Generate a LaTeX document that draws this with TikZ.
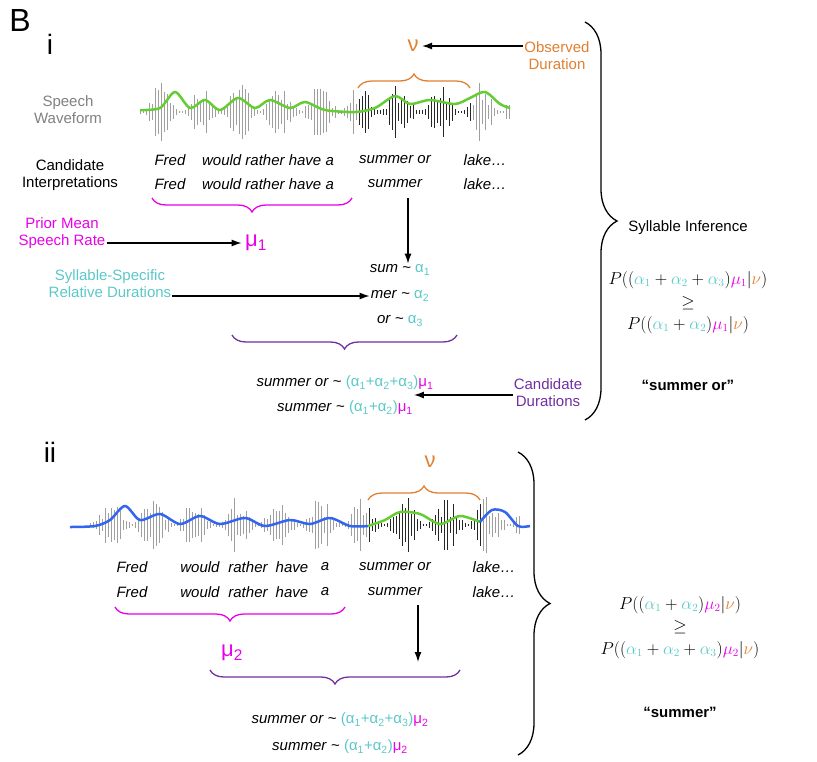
\documentclass[tikz,border=0pt]{standalone}
\usepackage{fontspec}
\setsansfont{Liberation Sans}
\usetikzlibrary{decorations.pathreplacing,arrows.meta}
\definecolor{mag}{HTML}{E800E8}
\definecolor{cya}{HTML}{5BC8C8}
\definecolor{ora}{HTML}{E08030}
\definecolor{pur}{HTML}{7030A0}
\definecolor{grn}{HTML}{66CC33}
\definecolor{blu}{HTML}{3366EE}
\begin{document}
\begin{tikzpicture}[x=1pt,y=-1pt,font=\sffamily\fontsize{15}{17}\selectfont,
  lbl/.style={align=center,inner sep=1pt},
  it/.style={font=\sffamily\itshape\fontsize{15}{17}\selectfont,inner sep=1pt},
  arr/.style={-{Latex[length=10pt,width=7pt]},line width=1.3pt},
  br/.style={decorate,decoration={brace,amplitude=14pt},line width=1.3pt},
  bigbr/.style={decorate,decoration={brace,amplitude=32pt},line width=1.3pt},
  fm/.style={font=\fontsize{16}{18}\selectfont,inner sep=1pt}]
\useasboundingbox (0,0) rectangle (817,761);
\node[font=\sffamily\fontsize{32}{34}\selectfont] (B) at (20,20) {B};
\node[font=\sffamily\fontsize{28}{30}\selectfont] (i) at (50,44) {i};
% waveform 1
\pgfmathsetseed{7}
\foreach \x in {140,143,...,510}{
  \pgfmathsetmacro\h{(2+28*abs(sin((\x-140)*4.5))^2)*(0.3+0.7*rnd)}
  \ifnum\x>357 \ifnum\x<471 \def\c{black!85}\else\def\c{gray!75}\fi\else\def\c{gray!75}\fi
  \draw[\c,line width=0.9pt] (\x,112-\h) -- (\x,112+\h);
}
\draw[grn,line width=2.5pt] plot[smooth] coordinates {(140,110)(160,108)(175,92)(190,108)(205,100)(220,110)(238,98)(255,108)(270,100)(290,108)(305,102)(325,110)(355,112)(375,108)(395,96)(410,104)(430,100)(455,104)(470,98)(485,92)(500,104)(510,108)};
\node[ora,font=\sffamily\fontsize{22}{24}\selectfont] (v1) at (413,46) {ν};
\draw[br,ora] (358,88) -- (470,88);
\node[lbl,ora] (od) at (557,56) {Observed\\Duration};
\draw[arr] (od.west|-v1) -- (v1.east);
\node[lbl,gray] (sw) at (68,110) {Speech\\Waveform};
\node[lbl] (ci) at (70,175) {Candidate\\Interpretations};
\node[it] (t1) at (170,160) {Fred};
\node[it] (t2) at (268,160) {would rather have a};
\node[it] (t3) at (395,160) {summer or};
\node[it] (t4) at (485,160) {lake…};
\node[it] (u1) at (170,184) {Fred};
\node[it] (u2) at (268,184) {would rather have a};
\node[it] (u3) at (395,184) {summer};
\node[it] (u4) at (485,184) {lake…};
\draw[br,mag] (352,198) -- (152,198);
\node[mag,font=\sffamily\fontsize{22}{24}\selectfont] (mu1) at (256,243) {μ\textsubscript{1}};
\node[lbl,mag] (pm) at (62,233) {Prior Mean\\Speech Rate};
\coordinate (a1) at (408,198);
\node[it] (s1) at (400,270) {sum \textup{\textasciitilde} \textcolor{cya}{\textup{α\textsubscript{1}}}};
\node[it] (s2) at (400,296) {mer \textup{\textasciitilde} \textcolor{cya}{\textup{α\textsubscript{2}}}};
\node[it] (s3) at (400,321) {or \textup{\textasciitilde} \textcolor{cya}{\textup{α\textsubscript{3}}}};
\draw[arr] (a1) -- (s1.north-|a1);
\draw[arr] (pm.east|-mu1) -- (mu1.west);
\node[lbl,cya] (sr) at (110,284) {Syllable-Specific\\Relative Durations};
\draw[arr] (sr.east|-s2) -- (s2.west);
\draw[br,pur] (457,335) -- (232,335);
\node[it] (c1) at (345,383) {summer or \textup{\textasciitilde} \textup{\textcolor{cya}{(α\textsubscript{1}+α\textsubscript{2}+α\textsubscript{3})}\textcolor{mag}{μ\textsubscript{1}}}};
\node[it] (c2) at (345,408) {summer \textup{\textasciitilde} \textup{\textcolor{cya}{(α\textsubscript{1}+α\textsubscript{2})}\textcolor{mag}{μ\textsubscript{1}}}};
\node[lbl,pur] (cd) at (548,393) {Candidate\\Durations};
\draw[arr] (cd.west) ++(0,2) coordinate (cdw) (cdw) -- (c2.east|-cdw);
\draw[bigbr] (585,22) -- (585,420);
\node (si) at (688,228) {Syllable Inference};
\node[fm] (f1) at (688,280) {$P((\textcolor{cya}{\alpha_1}+\textcolor{cya}{\alpha_2}+\textcolor{cya}{\alpha_3})\textcolor{mag}{\mu_1}|\textcolor{ora}{\nu})$};
\node[fm] (g1) at (688,303) {$\geq$};
\node[fm] (f2) at (688,325) {$P((\textcolor{cya}{\alpha_1}+\textcolor{cya}{\alpha_2})\textcolor{mag}{\mu_1}|\textcolor{ora}{\nu})$};
\node[font=\sffamily\bfseries\fontsize{15}{17}\selectfont] (r1) at (688,385) {“summer or”};
% part ii
\node[font=\sffamily\fontsize{28}{30}\selectfont] (ii) at (50,452) {ii};
\pgfmathsetseed{11}
\foreach \x in {90,93,...,520}{
  \pgfmathsetmacro\h{(2+28*abs(sin((\x-90)*4.3))^2)*(0.3+0.7*rnd)}
  \ifnum\x>367 \ifnum\x<481 \def\c{black!85}\else\def\c{gray!75}\fi\else\def\c{gray!75}\fi
  \draw[\c,line width=0.9pt] (\x,525-\h) -- (\x,525+\h);
}
\draw[blu,line width=2.5pt] plot[smooth] coordinates {(70,527)(95,526)(110,520)(125,506)(140,520)(160,514)(180,524)(200,516)(220,524)(245,518)(265,526)(290,520)(310,524)(330,518)(350,526)(368,526)};
\draw[grn,line width=2.5pt] plot[smooth] coordinates {(368,526)(385,520)(400,512)(420,514)(440,524)(460,516)(480,522)};
\draw[blu,line width=2.5pt] plot[smooth] coordinates {(480,522)(492,510)(505,512)(518,526)(530,526)};
\node[ora,font=\sffamily\fontsize{22}{24}\selectfont] (v2) at (430,462) {ν};
\draw[br,ora] (368,500) -- (480,500);
\node[it] (w1) at (132,567) {Fred};
\node[it] (w2) at (200,567) {would};
\node[it] (w3) at (248,567) {rather};
\node[it] (w4) at (292,567) {have};
\node[it] (w5) at (325,567) {a};
\node[it] (w6) at (395,567) {summer or};
\node[it] (w7) at (494,567) {lake…};
\node[it] (x1) at (132,592) {Fred};
\node[it] (x2) at (200,592) {would};
\node[it] (x3) at (248,592) {rather};
\node[it] (x4) at (292,592) {have};
\node[it] (x5) at (325,592) {a};
\node[it] (x6) at (395,592) {summer};
\node[it] (x7) at (494,592) {lake…};
\draw[br,mag] (345,607) -- (115,607);
\node[mag,font=\sffamily\fontsize{22}{24}\selectfont] (mu2) at (232,653) {μ\textsubscript{2}};
\coordinate (a2) at (418,605);
\coordinate (a2e) at (418,662);
\draw[arr] (a2) -- (a2e);
\draw[br,pur] (460,670) -- (210,670);
\node[it] (d1) at (340,720) {summer or \textup{\textasciitilde} \textup{\textcolor{cya}{(α\textsubscript{1}+α\textsubscript{2}+α\textsubscript{3})}\textcolor{mag}{μ\textsubscript{2}}}};
\node[it] (d2) at (340,747) {summer \textup{\textasciitilde} \textup{\textcolor{cya}{(α\textsubscript{1}+α\textsubscript{2})}\textcolor{mag}{μ\textsubscript{2}}}};
\draw[bigbr] (518,452) -- (518,755);
\node[fm] (f3) at (680,605) {$P((\textcolor{cya}{\alpha_1}+\textcolor{cya}{\alpha_2})\textcolor{mag}{\mu_2}|\textcolor{ora}{\nu})$};
\node[fm] (g2) at (680,627) {$\geq$};
\node[fm] (f4) at (680,650) {$P((\textcolor{cya}{\alpha_1}+\textcolor{cya}{\alpha_2}+\textcolor{cya}{\alpha_3})\textcolor{mag}{\mu_2}|\textcolor{ora}{\nu})$};
\node[font=\sffamily\bfseries\fontsize{15}{17}\selectfont] (r2) at (680,712) {“summer”};
\end{tikzpicture}
\end{document}
